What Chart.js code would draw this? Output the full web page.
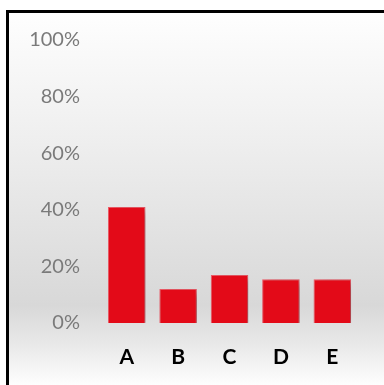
<!DOCTYPE html>
<html>
<head>
<meta charset="utf-8">
<script src="https://cdn.jsdelivr.net/npm/chart.js@4"></script>
<style>
  html, body { margin: 0; padding: 0; background: #fff; }
  body { width: 384px; height: 385px; position: relative; overflow: hidden; }
  #frame {
    position: absolute; left: 6px; top: 10px; width: 378px; height: 375px;
    border-left: 3px solid #000; border-top: 3px solid #000;
    background: linear-gradient(to bottom, #fefefe 0%, #eeeeee 35%, #d8d8d8 78%, #e8e8e8 88%, #ffffff 100%);
  }
  #chart { display: block; }
</style>
</head>
<body>
<div id="frame"><canvas id="chart" width="375" height="372"></canvas></div>
<script>
// --- DATA ---
const categories = ['A', 'B', 'C', 'D', 'E'];
const shares = [41, 12, 17, 15.5, 15.5];
const yTicks = [0, 20, 40, 60, 80, 100];

Chart.defaults.font.family = "Lato, 'Open Sans', sans-serif";

// soft drop shadow behind the bars
const barShadow = {
    id: 'barShadow',
    beforeDatasetsDraw(chart) {
        const ctx = chart.ctx;
        ctx.save();
        ctx.shadowColor = 'rgba(0,0,0,0.32)';
        ctx.shadowBlur = 8;
        ctx.shadowOffsetX = 5;
        ctx.shadowOffsetY = 3;
    },
    afterDatasetsDraw(chart) {
        chart.ctx.restore();
    }
};

new Chart(document.getElementById('chart'), {
    type: 'bar',
    data: {
        labels: categories,
        datasets: [{
            data: shares,
            backgroundColor: '#E30A18',
            borderColor: '#EE5A66',
            borderWidth: 1,
            categoryPercentage: 1,
            barPercentage: 0.73
        }]
    },
    options: {
        responsive: false,
        animation: false,
        layout: { padding: { left: 0, right: 26, top: 27, bottom: 16 } },
        plugins: { legend: { display: false }, tooltip: { enabled: false } },
        scales: {
            y: {
                min: 0, max: 100,
                afterBuildTicks: s => { s.ticks = yTicks.map(v => ({ value: v })); },
                // fixed axis width; the tick padding should not push the plot down
                afterFit: s => { s.width = 92; s.paddingTop = 12; s.paddingBottom = 12; },
                grid: { display: false, drawTicks: false },
                border: { display: false },
                ticks: {
                    padding: 21,
                    color: '#7a7a7a',
                    font: { size: 20 },
                    callback: v => v + '%'
                }
            },
            x: {
                afterFit: s => { s.height = 46; },
                grid: { display: false, drawTicks: false },
                border: { display: false },
                ticks: {
                    padding: 22,
                    color: '#000',
                    font: { size: 21, weight: 'bold' }
                }
            }
        }
    },
    plugins: [barShadow]
});
</script>
</body>
</html>
